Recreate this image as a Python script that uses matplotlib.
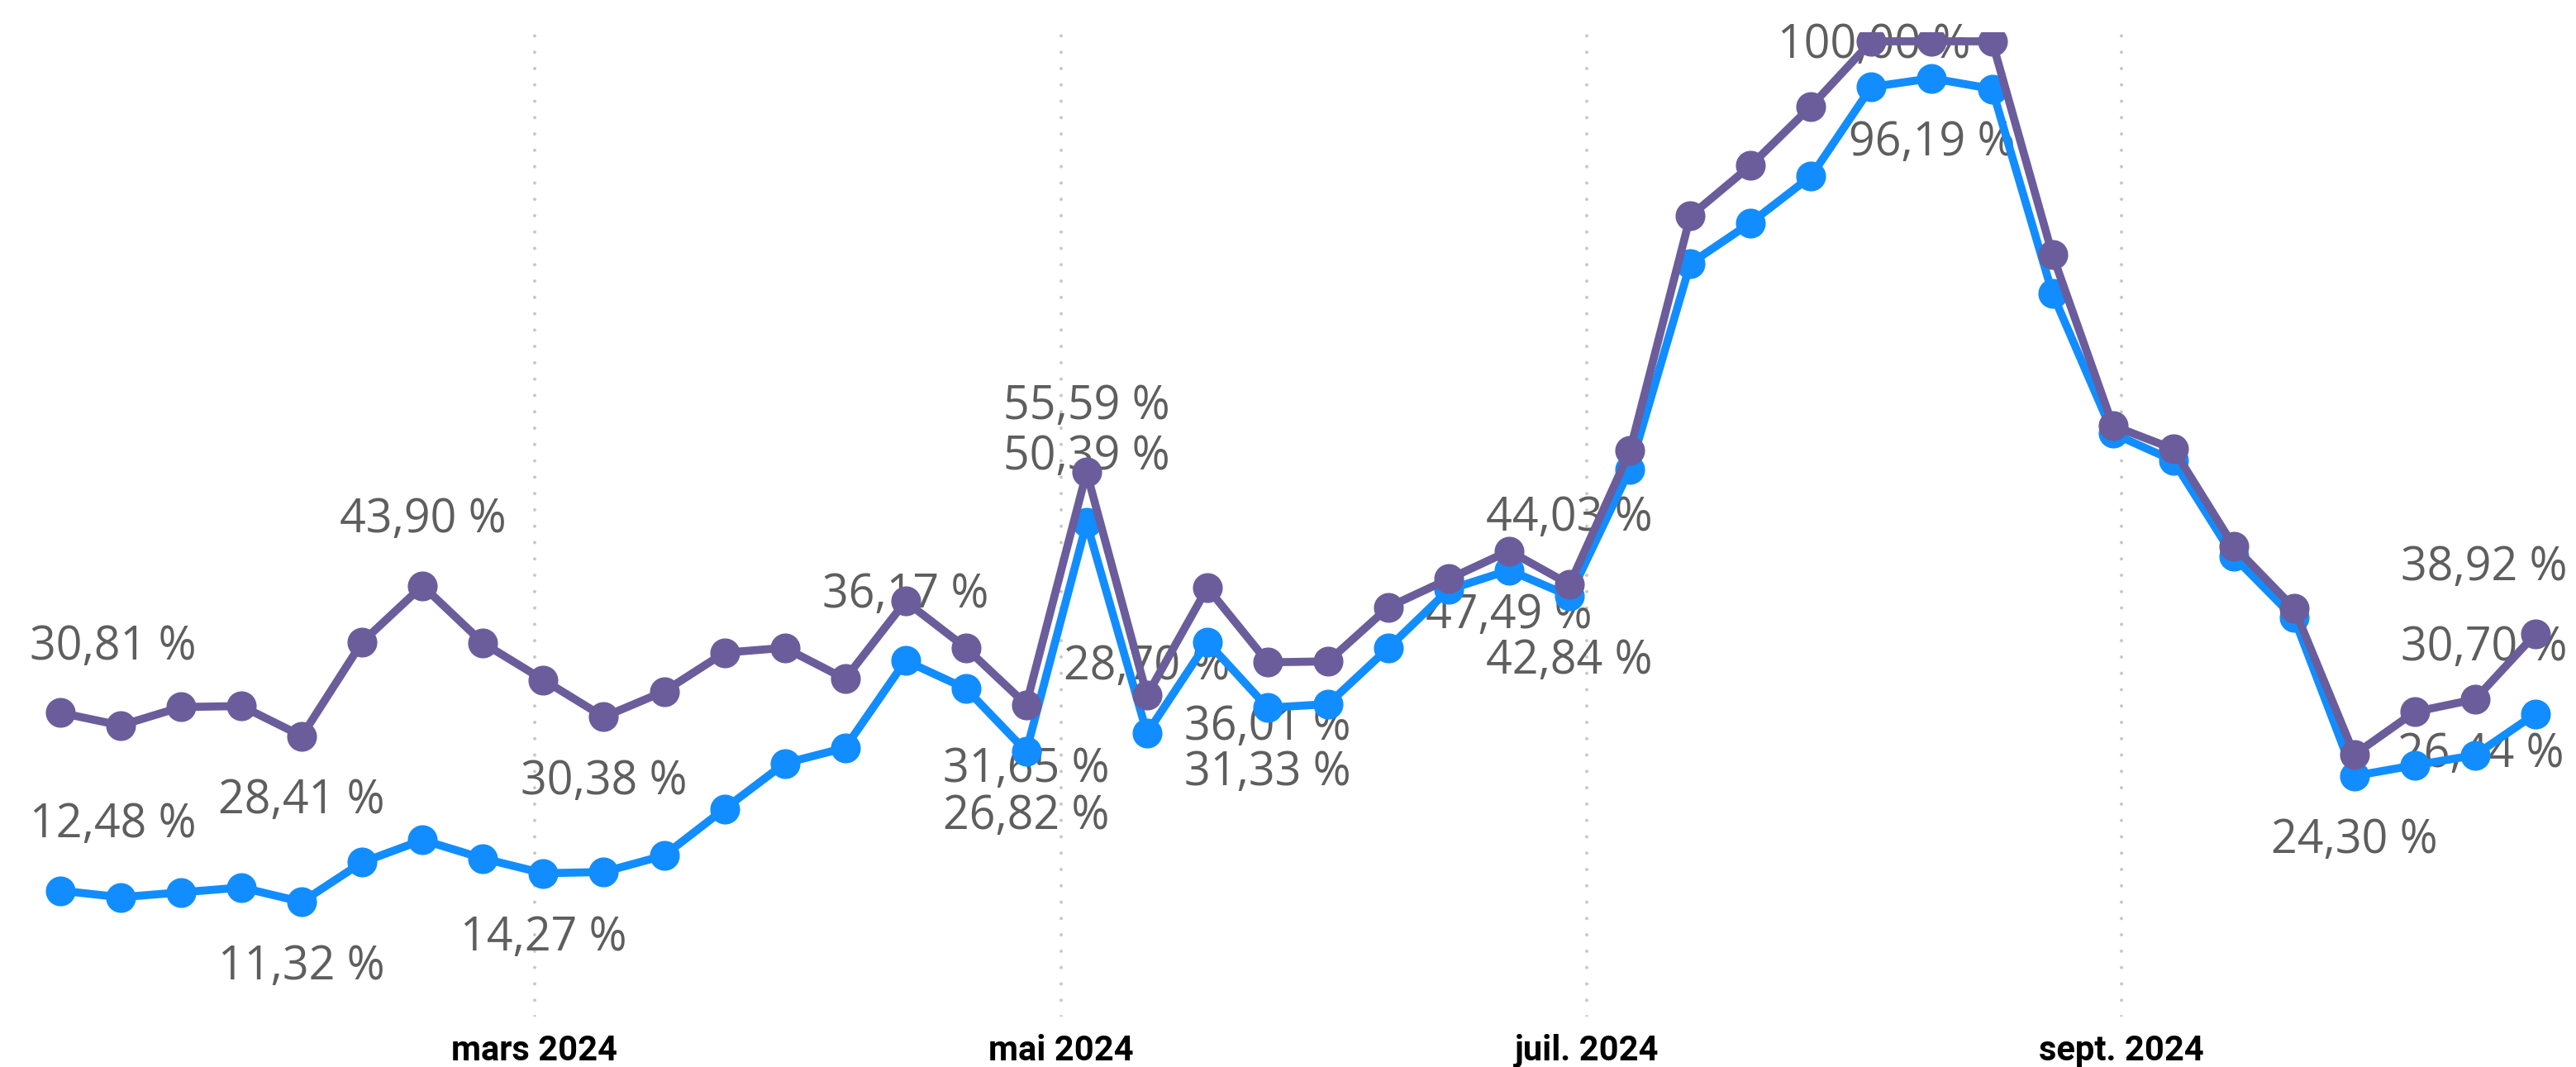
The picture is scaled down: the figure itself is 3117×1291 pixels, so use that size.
"""Weekly share (%) of two series, Jan-Oct 2024, Power BI style line chart."""

import matplotlib
matplotlib.use("Agg")
import matplotlib.pyplot as plt
import matplotlib.dates as mdates
import pandas as pd

# ---------------------------------------------------------------------------
# Data
# ---------------------------------------------------------------------------
WEEKS = pd.date_range("2024-01-06", periods=42, freq="7D")

PURPLE_VALUES = [
    30.81, 29.5, 31.4, 31.5, 28.41, 38.1, 43.90, 38.0, 34.2, 30.38,
    33.0, 37.0, 37.5, 34.3, 42.3, 37.5, 31.65, 55.59, 32.6, 43.7,
    36.01, 36.1, 41.7, 44.6, 47.49, 44.03, 57.8, 82.0, 87.2, 93.3,
    100.0, 100.0, 100.0, 78.0, 60.4, 58.0, 48.0, 41.6, 26.5, 30.9,
    32.2, 38.92,
]

BLUE_VALUES = [
    12.48, 11.8, 12.3, 12.8, 11.32, 15.4, 17.7, 15.8, 14.27, 14.4,
    16.1, 20.9, 25.6, 27.2, 36.17, 33.3, 26.82, 50.39, 28.70, 38.1,
    31.33, 31.7, 37.5, 43.5, 45.5, 42.84, 55.9, 77.1, 81.3, 86.1,
    95.3, 96.19, 95.1, 74.0, 59.6, 56.8, 46.9, 40.6, 24.30, 25.4,
    26.44, 30.70,
]

MONTH_TICKS = ["2024-03-01", "2024-05-01", "2024-07-01", "2024-09-01"]
MONTH_LABELS = ["mars 2024", "mai 2024", "juil. 2024", "sept. 2024"]

# which points carry a data label: (series, week index, placement)
LABELS = [
    ("purple", 0, "above_left"), ("blue", 0, "above_left"),
    ("purple", 4, "below"), ("blue", 4, "below"),
    ("purple", 6, "above"),
    ("blue", 8, "below"),
    ("purple", 9, "below"),
    ("blue", 14, "above"),
    ("purple", 16, "below"), ("blue", 16, "below"),
    ("purple", 17, "above"), ("blue", 17, "above"),
    ("blue", 18, "above"),
    ("purple", 20, "below"), ("blue", 20, "below"),
    ("purple", 24, "below"),
    ("purple", 25, "above"), ("blue", 25, "below"),
    ("purple", 30, "top"),
    ("blue", 31, "below"),
    ("blue", 38, "below"),
    ("blue", 40, "center"),
    ("purple", 41, "above_right"), ("blue", 41, "above_right"),
]

PURPLE = "#6B5D9B"
BLUE = "#118DFF"
LABEL_GREY = "#5E5E5E"
GRID_GREY = "#C8C8C8"

# offsets in points for each placement (dx, dy, ha)
PLACEMENT = {
    "above": (0, 57, "center"),
    "below": (0, -57, "center"),
    "above_left": (-27, 57, "left"),
    "above_right": (28, 57, "right"),
    "center": (5, 0, "center"),
    "top": (2, -4, "center"),
}


def fmt_pct(v: float) -> str:
    return f"{v:.2f}".replace(".", ",") + " %"


def main() -> None:
    fig = plt.figure(figsize=(31.17, 12.91), dpi=100)
    ax = fig.add_axes([0, 0.04725, 1, 0.9222])

    series = {"blue": BLUE_VALUES, "purple": PURPLE_VALUES}

    ax.plot(WEEKS, BLUE_VALUES, color=BLUE, lw=7, marker="o", ms=25,
            solid_joinstyle="round", zorder=3)
    ax.plot(WEEKS, PURPLE_VALUES, color=PURPLE, lw=7, marker="o", ms=25,
            solid_joinstyle="round", zorder=4)

    # dotted month gridlines
    for d in MONTH_TICKS:
        ax.axvline(pd.Timestamp(d), color=GRID_GREY, lw=2.9,
                   ls=(0, (0.01, 4.9)), dash_capstyle="round", zorder=0)

    for name, i, place in LABELS:
        dx, dy, ha = PLACEMENT[place]
        v = series[name][i]
        ax.annotate(fmt_pct(v), xy=(WEEKS[i], v), xytext=(dx, dy),
                    textcoords="offset points", ha=ha, va="center",
                    fontsize=40, color=LABEL_GREY, family="Open Sans",
                    zorder=1)

    ax.set_xlim(mdates.date2num(WEEKS[0]) - 7.0,
                mdates.date2num(WEEKS[-1]) + 4.7)
    ax.set_ylim(-0.5, 100.9)

    ax.set_xticks([pd.Timestamp(d) for d in MONTH_TICKS])
    ax.set_xticklabels(MONTH_LABELS, fontsize=30, family="Roboto",
                       fontweight="bold", color="black")
    ax.tick_params(axis="x", length=0, pad=15)
    ax.set_yticks([])
    for s in ax.spines.values():
        s.set_visible(False)

    fig.savefig("out.png", dpi=100)
    plt.close(fig)


if __name__ == "__main__":
    main()
